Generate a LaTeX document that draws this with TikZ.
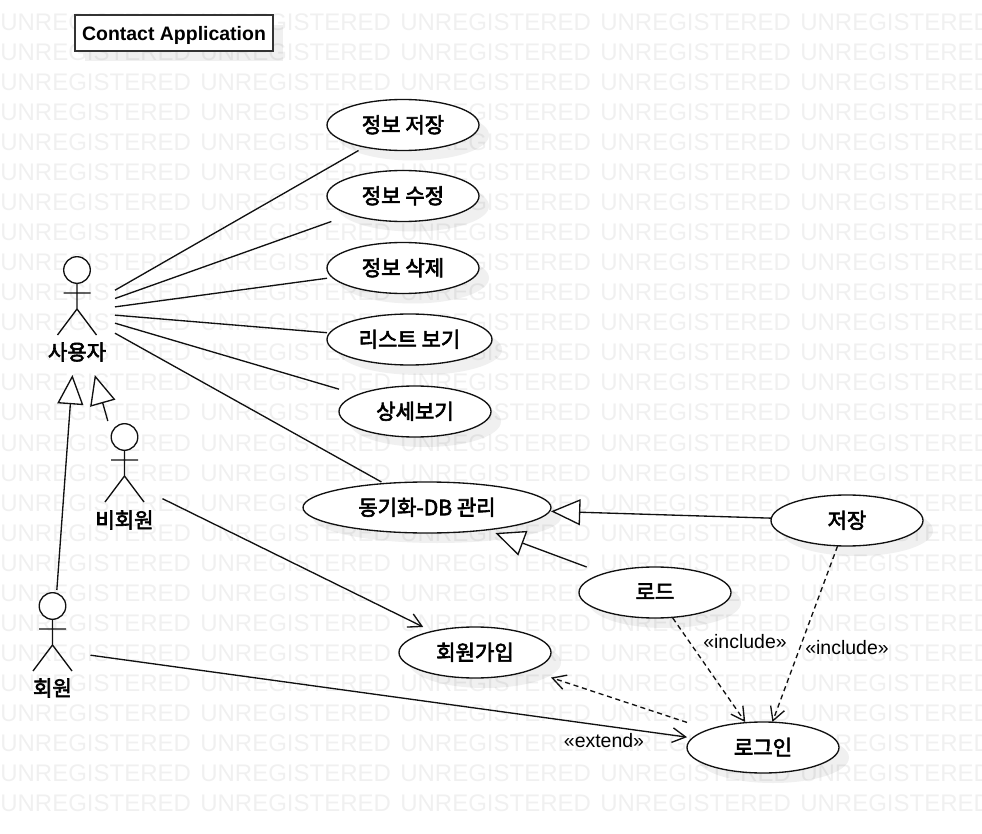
\documentclass[tikz,border=0pt]{standalone}
\usepackage{fontspec}
\setmainfont{Liberation Sans}
\newfontfamily\kr[FakeBold=3]{Noto Sans CJK KR}
\usetikzlibrary{arrows.meta,shapes.geometric}
\definecolor{inkc}{HTML}{111111}
\tikzset{
  x=0.75pt,y=-0.75pt,
  ink/.style={draw=inkc,line width=1pt},
  usecase/.style={ellipse,ink,fill=white,inner sep=0pt,outer sep=0pt,minimum height=38.25pt,font=\kr\fontsize{15.8}{17}\selectfont,text=black},
  ucbox/.style={rectangle,draw=none,inner sep=0pt,outer sep=0pt,minimum height=38.25pt},
  shadowc/.style={fill=black!6,draw=none},
  actorbox/.style={rectangle,draw=none,inner sep=0pt,outer sep=0pt,minimum width=57pt},
  actorname/.style={font=\kr\fontsize{15.8}{17}\selectfont,inner sep=0pt,text=black},
  assoc/.style={ink},
  gen/.style={ink,-{Triangle[open,fill=white,length=22pt,width=19.5pt,line width=1pt]}},
  dep/.style={ink,dash pattern=on 3.8pt off 2.8pt,-{Straight Barb[length=10pt,width=11pt,line width=1pt]}},
  open/.style={ink,-{Straight Barb[length=10pt,width=11pt,line width=1pt]}},
  stereo/.style={font=\fontsize{14.6}{16}\selectfont,inner sep=0pt,text=black},
  watermark/.style={anchor=base west,inner sep=0pt,font=\fontsize{18}{20}\selectfont,text=black,text opacity=0.06},
  titlebox/.style={rectangle,draw=black!80,line width=1.1pt,fill=white,inner sep=0pt,minimum width=148.5pt,minimum height=27pt,text height=12pt,text depth=1pt,font=\bfseries\fontsize{14.6}{16}\selectfont,text=black}
}
% name, x, y, width px, text
\newcommand{\usecaseat}[5]{%
  \node[usecase,minimum width=#4*0.75pt] (#1) at (#2,#3) {\raisebox{1.5pt}{#5}};
  \node[ucbox,minimum width=#4*0.75pt] (#1-b) at (#2,#3) {};
}
\newcommand{\ucshadow}[3]{\fill[shadowc] (#1+10,#2+10) ellipse [x radius=#3/2,y radius=25.5];}
% name, head x, head y, box centre y, box height, label y, label
\newcommand{\actorat}[7]{%
  \node[actorbox,minimum height=#5*0.75pt] (#1) at (#2,#4) {};
  \draw[ink,fill=white] (#2,#3) circle [radius=13.3];
  \draw[ink] (#2,#3+13.3) -- (#2,#3+39) (#2-13.5,#3+23) -- (#2+13.5,#3+23)
     (#2-19.5,#3+65) -- (#2,#3+39) -- (#2+19.5,#3+65);
  \node[actorname] (#1-name) at (#2,#6) {#7};
}
\begin{document}
\begin{tikzpicture}
\useasboundingbox (0,0) rectangle (982,834);
\fill[white] (0,0) rectangle (982,834);
% shadows
\fill[shadowc] (85,25) rectangle (283,61);
\ucshadow{403}{125}{152}
\ucshadow{403}{196}{152}
\ucshadow{403}{268}{152}
\ucshadow{409.5}{339.5}{165}
\ucshadow{415}{411.5}{152}
\ucshadow{427}{507.5}{248}
\ucshadow{847}{520.5}{152}
\ucshadow{655}{592.5}{152}
\ucshadow{475}{652.5}{152}
\ucshadow{763}{747.5}{152}
% watermark
\begin{scope}
\clip (0,0) rectangle (982,834);
\foreach \yy in {31,61,...,811}
  \foreach \xx in {0,200,400,600,800}
    \node[watermark] (wm-\xx-\yy) at (\xx,\yy) {UNREGISTERED};
\end{scope}
% title
\node[titlebox] (title) at (174,33) {Contact Application};
% use cases
\usecaseat{save}{403}{125}{152}{정보 저장}
\usecaseat{edit}{403}{196}{152}{정보 수정}
\usecaseat{del}{403}{268}{152}{정보 삭제}
\usecaseat{list}{409.5}{339.5}{165}{리스트 보기}
\usecaseat{detail}{415}{411.5}{152}{상세보기}
\usecaseat{sync}{427}{507.5}{248}{동기화-DB 관리}
\usecaseat{store}{847}{520.5}{152}{저장}
\usecaseat{load}{655}{592.5}{152}{로드}
\usecaseat{join}{475}{652.5}{152}{회원가입}
\usecaseat{login}{763}{747.5}{152}{로그인}
% actors
\actorat{user}{77}{270}{312}{126}{352}{사용자}
\actorat{guest}{124.5}{437}{480}{118}{520}{비회원}
\actorat{member}{52.5}{606}{650}{120}{688}{회원}
% associations
\draw[assoc] (user) -- (save-b);
\draw[assoc] (user) -- (edit-b);
\draw[assoc] (user) -- (del-b);
\draw[assoc] (user) -- (list-b);
\draw[assoc] (user) -- (detail-b);
\draw[assoc] (user) -- (sync-b);
\draw[open] (guest) -- (join-b);
\draw[open] (member) -- (login-b);
% generalizations
\draw[gen] (guest) -- (user);
\draw[gen] (member) -- (user);
\draw[gen] (store-b) -- (sync-b);
\draw[gen] (load-b) -- (sync-b);
% dependencies
\draw[dep] (load-b) -- (login-b);
\draw[dep] (store-b) -- (login-b);
\draw[dep] (login-b) -- (join-b);
% stereotypes
\node[stereo] (inc1) at (745,642) {«include»};
\node[stereo] (inc2) at (847,648) {«include»};
\node[stereo] (ext) at (604,741) {«extend»};
\end{tikzpicture}
\end{document}
